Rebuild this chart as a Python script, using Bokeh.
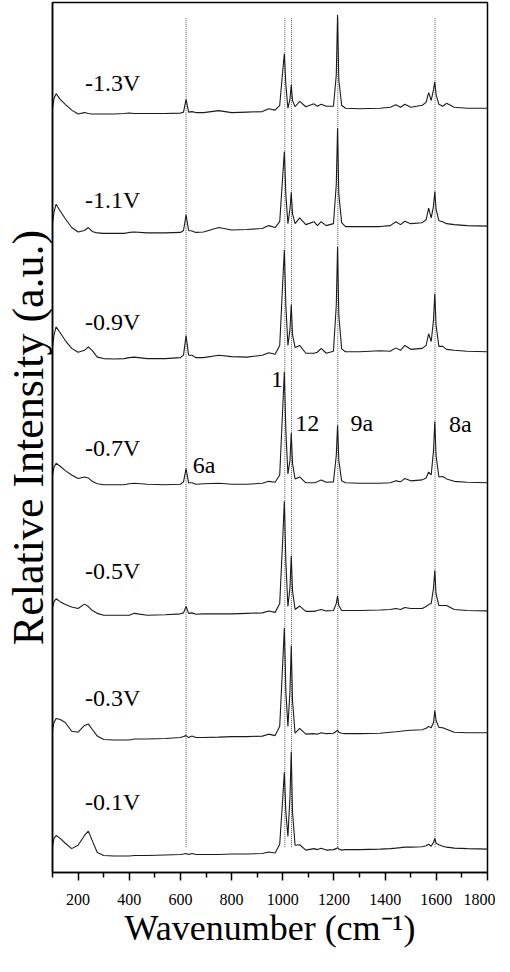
from bokeh.plotting import figure
from bokeh.models import Label, FixedTicker, ColumnDataSource
from bokeh.embed import file_html
from bokeh.resources import INLINE

# ---------------- data ----------------
wavenumber = [
    100, 106, 114, 130, 150, 175, 200, 225, 240, 255,
    275, 300, 340, 380, 400, 420, 470, 540, 600, 612,
    622, 632, 645, 660, 690, 750, 800, 860, 920, 945,
    970, 988, 1000, 1006, 1012, 1020, 1028, 1033, 1038, 1048,
    1066, 1090, 1122, 1135, 1150, 1170, 1198, 1209, 1214, 1219,
    1230, 1245, 1300, 1380, 1420, 1442, 1460, 1477, 1500, 1545,
    1560, 1570, 1580, 1589, 1594, 1599, 1610, 1625, 1640, 1670,
    1720, 1800]

int_m13 = [
    6, 16, 21, 15, 10, 4, 0, 1.5, 0.5, 0,
    0, 0, 0, 0.5, 1, 0.5, 0.5, 0.5, 1, 2,
    15, 2, 2.5, 1.5, 1.5, 3.5, 1.5, 2, 2.5, 5.5,
    4, 9, 45, 62, 30, 6, 15, 30, 14, 7.5,
    13, 7.5, 10.5, 8, 10, 8, 8, 40, 102, 35,
    9, 6, 5.5, 6, 7, 9.5, 7, 10, 7, 9,
    12, 22, 14, 25, 33, 20, 10, 8, 11, 7,
    6, 6]

int_m11 = [
    10, 22, 30, 23, 15, 6, 1.5, 3, 6, 2,
    0.5, 0, 0, 0, 1, 1.5, 0.5, 0.5, 1, 3,
    19, 3, 2.5, 1, 1.5, 6, 3.5, 4, 5, 8,
    6, 12, 60, 84, 40, 10, 25, 42, 20, 10,
    16, 9, 12, 8, 12, 8, 10, 50, 108, 40,
    11, 7, 7, 7, 8, 12, 9, 12.5, 10, 11,
    14, 26, 16, 28, 43, 25, 13, 12, 10, 9,
    8, 7.5]

int_m09 = [
    12, 25, 33, 27, 19, 11, 7, 9, 12.5, 9,
    2, 0.5, 0, 0.5, 1.5, 2, 0.5, 0.5, 1.5, 4,
    24, 4, 4, 1.5, 1.5, 4, 2.5, 2, 4, 6.5,
    5, 14, 80, 112, 55, 14, 30, 56, 25, 12,
    14, 6, 6, 7, 11, 6, 8, 55, 115, 45,
    10.5, 7.5, 7.5, 8.5, 8, 11.5, 9, 14, 10, 11,
    14, 26, 18, 40, 67, 35, 13, 13, 10, 9,
    8, 7.5]

int_m07 = [
    10, 18, 22, 19, 14.5, 10, 6.5, 8, 7, 3.5,
    1, 0, 0, 0, 1, 1.5, 0.5, 0, 0.5, 3,
    16.5, 2, 2, 0.5, 1, 1.5, 0.5, 0.5, 1.5, 3.5,
    2.5, 10, 80, 116, 55, 11, 25, 53, 22, 6,
    8, 2, 2, 3, 5, 2.5, 3, 30, 61, 25,
    4, 2, 1.5, 1.5, 2, 4, 3, 6.5, 4, 5,
    7, 13, 10, 35, 65, 30, 8, 8.5, 6, 3.5,
    2.5, 2]

int_m05 = [
    8, 14, 17, 14, 11, 8.5, 7, 11.5, 9, 5,
    2, 0, 0, 0, 0, 2, 0, 0.5, 1.5, 2.5,
    9, 2, 2.5, 1, 1.5, 1.5, 1.5, 2, 2.5, 4.5,
    3, 12, 80, 117, 55, 9, 28, 61, 25, 6,
    9.5, 4, 4, 5, 6, 4.5, 5, 12, 20, 10,
    5, 5, 5, 5.5, 6, 7, 6, 8, 7, 7,
    9, 11, 12, 28, 46, 22, 10, 10, 10, 6,
    5, 4.5]

int_m03 = [
    10, 18, 22, 21, 18, 9, 8, 15, 16.5, 11,
    4, 0.5, 0, 0, 0, 1, 1, 1.5, 2.5, 3.5,
    4.5, 2.5, 4, 2.5, 2.5, 3, 3.5, 3.5, 4, 6,
    4.5, 14, 80, 115, 50, 14, 50, 97, 40, 7,
    12, 6, 6.5, 6, 7.5, 6.5, 7, 9, 10, 8,
    7, 6.5, 6.5, 7, 8, 8.5, 9, 9.5, 10, 10.5,
    12, 14, 12.5, 18, 30, 20, 13, 12.5, 11, 8,
    7.5, 7.5]

int_m01 = [
    10, 18, 21, 18, 13, 7.5, 11, 21, 25.5, 16,
    3.5, 0.5, 0, 0, 0, 0.5, 0.5, 1, 1.5, 2,
    2.5, 1.5, 2.5, 1.5, 1.5, 1.5, 2, 2, 2.5, 4,
    3, 12, 60, 86, 45, 20, 60, 107, 45, 11,
    11.5, 6, 7.5, 6.5, 8, 6, 6.5, 7.5, 8.5, 7,
    6, 6.5, 6.5, 7, 7.5, 8, 8.5, 9, 9, 9.5,
    10.5, 12, 10, 14, 18, 13, 11.5, 10, 9, 8,
    7.5, 7]

potentials = ["-1.3V", "-1.1V", "-0.9V", "-0.7V", "-0.5V", "-0.3V", "-0.1V"]
offsets = [778.5, 656, 527, 398, 264, 136, 17]
spectra = [int_m13, int_m11, int_m09, int_m07, int_m05, int_m03, int_m01]

band_positions = [622, 1008, 1034, 1215, 1595]
band_names = ["6a", "1", "12", "9a", "8a"]

x_ticks = [200, 400, 600, 800, 1000, 1200, 1400, 1600, 1800]
x_minor = [100, 300, 500, 700, 900, 1100, 1300, 1500, 1700]

# ---------------- layout / style constants ----------------
FONT = "Liberation Serif"
label_x = 227
label_y = [810, 690, 565, 436, 309, 179, 72]
band_label_pos = [(648, 418.5), (954, 506), (1049, 461), (1265, 461.5), (1650, 460.5)]
DOT_Y0, DOT_Y1 = 26, 877

p = figure(frame_width=435, frame_height=870, x_range=(100, 1800), y_range=(0, 893),
           output_backend="svg", toolbar_location=None,
           min_border_left=48, min_border_right=8, min_border_top=2, min_border_bottom=10)
p.background_fill_color = "white"
p.border_fill_color = "white"
p.xgrid.visible = False
p.ygrid.visible = False
p.outline_line_color = "black"
p.outline_line_width = 1.5
p.outline_line_alpha = 1.0

ax = p.xaxis[0]
ax.ticker = FixedTicker(ticks=x_ticks, minor_ticks=x_minor)
ax.axis_line_color = "black"
ax.axis_line_width = 1.5
ax.major_tick_out = 8
ax.major_tick_in = 0
ax.minor_tick_out = 5
ax.minor_tick_in = 0
ax.major_tick_line_width = 1.5
ax.minor_tick_line_width = 1.5
ax.major_tick_line_color = "black"
ax.minor_tick_line_color = "black"
ax.major_label_text_font = FONT
ax.major_label_text_font_size = "16px"
ax.major_label_text_color = "black"
ax.major_label_standoff = 13
ax.axis_label = "Wavenumber (cm\u207b\u00b9)"
ax.axis_label_text_font = FONT
ax.axis_label_text_font_size = "36px"
ax.axis_label_text_font_style = "normal"
ax.axis_label_text_color = "black"
ax.axis_label_standoff = 0

ay = p.yaxis[0]
ay.ticker = FixedTicker(ticks=[])
ay.axis_line_color = "black"
ay.axis_line_width = 1.5
ay.major_tick_out = 0
ay.major_tick_in = 0
ay.minor_tick_out = 0
ay.minor_tick_in = 0
ay.major_label_standoff = 0
ay.axis_label = "Relative Intensity (a.u.)"
ay.axis_label_text_font = FONT
ay.axis_label_text_font_size = "44px"
ay.axis_label_text_font_style = "normal"
ay.axis_label_text_color = "black"
ay.axis_label_standoff = 0

# dotted band markers
p.segment(x0=band_positions, x1=band_positions,
          y0=[DOT_Y0] * len(band_positions), y1=[DOT_Y1] * len(band_positions),
          line_color="#555555", line_width=1, line_dash="1 1")

# spectra
for name, off, spec in zip(potentials, offsets, spectra):
    src = ColumnDataSource(dict(x=wavenumber, y=[off + v for v in spec]))
    p.line("x", "y", source=src, line_color="#1a1a1a", line_width=1.1)

# potential labels
for name, ly in zip(potentials, label_y):
    p.add_layout(Label(x=label_x, y=ly, text=name, text_font=FONT,
                       text_font_size="24px", text_color="black",
                       text_baseline="middle", text_align="left"))

# band labels
for name, (bx, by) in zip(band_names, band_label_pos):
    p.add_layout(Label(x=bx, y=by, text=name, text_font=FONT,
                       text_font_size="24px", text_color="black",
                       text_baseline="middle", text_align="left"))

open("out.html", "w").write(file_html(p, INLINE))
